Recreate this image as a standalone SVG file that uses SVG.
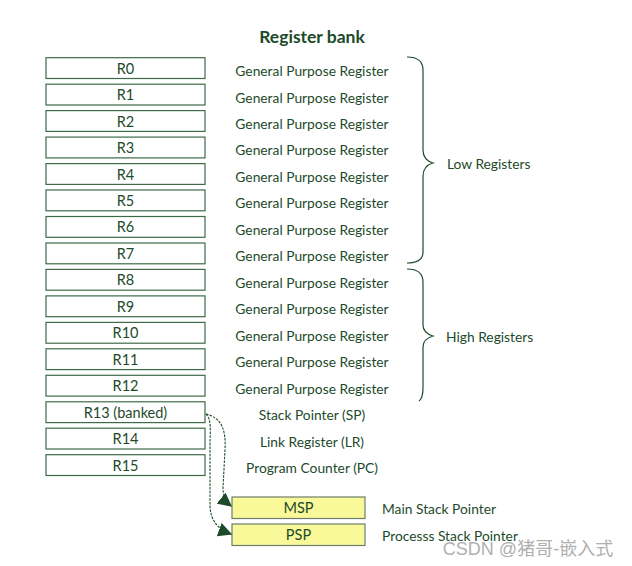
<svg xmlns="http://www.w3.org/2000/svg" width="632" height="566" viewBox="0 0 632 566">
<defs>
<marker id="ah" viewBox="0 0 10 10" refX="9" refY="5" markerWidth="14" markerHeight="14" markerUnits="userSpaceOnUse" orient="auto">
<path d="M0,0 L10,5 L0,10 z" fill="#1d4a2a"/>
</marker>
</defs>
<style>
.reg rect{fill:#ffffff;stroke:#3d6b4a;stroke-width:1.2}
.sp rect{fill:#f9f99a;stroke:#6d7d6a;stroke-width:1.2}
text{font-family:Lato,"Noto Sans",sans-serif;fill:#1d4a2a;font-size:14.5px;dominant-baseline:central}
.c{text-anchor:middle}
.lbl{text-anchor:middle;font-size:13.8px}
.side{font-size:13.8px}
.brace{fill:none;stroke:#1d4a2a;stroke-width:1.2}
.conn path{fill:none;stroke:#1d4a2a;stroke-width:1.1;stroke-dasharray:2.5,1.2;marker-end:url(#ah)}
</style>
<rect width="632" height="566" fill="#ffffff"/>
<text x="312" y="36" class="c" style="font-weight:bold;font-size:17.5px">Register bank</text>
<g id="R0" class="reg"><rect x="46" y="57.7" width="159" height="20.8"/><text x="125.5" y="68.1" class="c">R0</text><text x="312" y="70.5" class="lbl">General Purpose Register</text></g>
<g id="R1" class="reg"><rect x="46" y="84.2" width="159" height="20.8"/><text x="125.5" y="94.6" class="c">R1</text><text x="312" y="97" class="lbl">General Purpose Register</text></g>
<g id="R2" class="reg"><rect x="46" y="110.6" width="159" height="20.8"/><text x="125.5" y="121" class="c">R2</text><text x="312" y="123.4" class="lbl">General Purpose Register</text></g>
<g id="R3" class="reg"><rect x="46" y="137.1" width="159" height="20.8"/><text x="125.5" y="147.5" class="c">R3</text><text x="312" y="149.9" class="lbl">General Purpose Register</text></g>
<g id="R4" class="reg"><rect x="46" y="163.6" width="159" height="20.8"/><text x="125.5" y="174" class="c">R4</text><text x="312" y="176.4" class="lbl">General Purpose Register</text></g>
<g id="R5" class="reg"><rect x="46" y="190" width="159" height="20.8"/><text x="125.5" y="200.4" class="c">R5</text><text x="312" y="202.8" class="lbl">General Purpose Register</text></g>
<g id="R6" class="reg"><rect x="46" y="216.5" width="159" height="20.8"/><text x="125.5" y="226.9" class="c">R6</text><text x="312" y="229.3" class="lbl">General Purpose Register</text></g>
<g id="R7" class="reg"><rect x="46" y="243" width="159" height="20.8"/><text x="125.5" y="253.4" class="c">R7</text><text x="312" y="255.8" class="lbl">General Purpose Register</text></g>
<g id="R8" class="reg"><rect x="46" y="269.4" width="159" height="20.8"/><text x="125.5" y="279.8" class="c">R8</text><text x="312" y="282.2" class="lbl">General Purpose Register</text></g>
<g id="R9" class="reg"><rect x="46" y="295.9" width="159" height="20.8"/><text x="125.5" y="306.3" class="c">R9</text><text x="312" y="308.7" class="lbl">General Purpose Register</text></g>
<g id="R10" class="reg"><rect x="46" y="322.4" width="159" height="20.8"/><text x="125.5" y="332.8" class="c">R10</text><text x="312" y="335.2" class="lbl">General Purpose Register</text></g>
<g id="R11" class="reg"><rect x="46" y="348.8" width="159" height="20.8"/><text x="125.5" y="359.2" class="c">R11</text><text x="312" y="361.6" class="lbl">General Purpose Register</text></g>
<g id="R12" class="reg"><rect x="46" y="375.3" width="159" height="20.8"/><text x="125.5" y="385.7" class="c">R12</text><text x="312" y="388.1" class="lbl">General Purpose Register</text></g>
<g id="R13" class="reg"><rect x="46" y="401.8" width="159" height="20.8"/><text x="125.5" y="412.2" class="c">R13 (banked)</text><text x="312" y="414.6" class="lbl">Stack Pointer (SP)</text></g>
<g id="R14" class="reg"><rect x="46" y="428.2" width="159" height="20.8"/><text x="125.5" y="438.6" class="c">R14</text><text x="312" y="441" class="lbl">Link Register (LR)</text></g>
<g id="R15" class="reg"><rect x="46" y="454.7" width="159" height="20.8"/><text x="125.5" y="465.1" class="c">R15</text><text x="312" y="467.5" class="lbl">Program Counter (PC)</text></g>
<g id="MSP" class="sp"><rect x="232" y="497" width="133" height="21.5"/><text x="298.5" y="507.7" class="c">MSP</text><text x="382" y="508" class="side">Main Stack Pointer</text></g>
<g id="PSP" class="sp"><rect x="232" y="524" width="133" height="21.5"/><text x="298.5" y="534.7" class="c">PSP</text><text x="382" y="535" class="side">Processs Stack Pointer</text></g>
<g id="low">
<path class="brace" d="M407,57 Q423,57 423,70 L423,150 Q423,160 433,163 Q423,166 423,176 L423,252 Q423,263 407,263"/>
<text x="447" y="163" class="side">Low Registers</text>
</g>
<g id="high">
<path class="brace" d="M407,269 Q423,269 423,282 L423,325 Q423,333 433,336 Q423,339 423,347 L423,388 Q423,398 419,401"/>
<text x="446" y="336" class="side">High Registers</text>
</g>
<g class="conn">
<path d="M206,414 C222,418 226,430 225,450 L223,488 C223,496 226,502 231,506"/>
<path d="M206,414 C212,420 210,432 210,445 L210,505 C210,522 220,530 231,534"/>
</g>
<text x="528" y="549" class="c" style="fill:#b0b0b0;font-family:'Liberation Sans','Noto Sans CJK SC',sans-serif;font-size:18px">CSDN @猪哥-嵌入式</text>
</svg>
